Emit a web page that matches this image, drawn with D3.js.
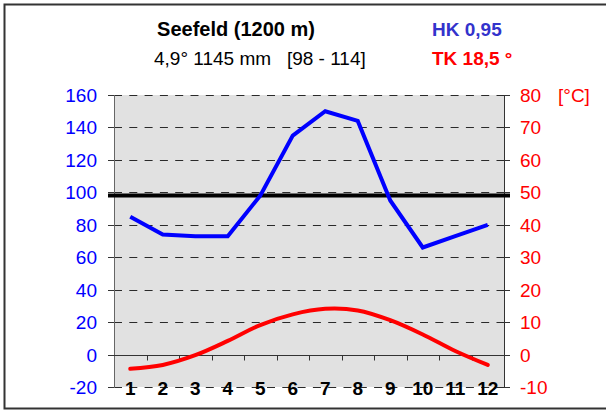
<!DOCTYPE html>
<html>
<head>
<meta charset="utf-8">
<script src="https://cdn.jsdelivr.net/npm/d3@7"></script>
<style>
  body { margin: 0; background: #fff; }
  text { font-family: "Liberation Sans", Arial, sans-serif; }
</style>
</head>
<body>
<div id="chart"></div>
<script>
// Klimadiagramm Seefeld
const months = ['1', '2', '3', '4', '5', '6', '7', '8', '9', '10', '11', '12'];
const precipitation = [85, 74, 73, 73, 98, 135, 150, 144, 95, 66, 73, 80];
const temperature = [-4.4, -3.2, -0.2, 4.2, 9.1, 12.4, 14.1, 13.6, 10.6, 6.2, 1.1, -3.2];
const leftTicks = [-20, 0, 20, 40, 60, 80, 100, 120, 140, 160];
const rightTicks = [-10, 0, 10, 20, 30, 40, 50, 60, 70, 80];
const refLine = [98];

const width = 606, height = 410;
const plotLeft = 114, plotRight = 504, plotTop = 95, plotBottom = 387;

const svg = d3.select('#chart')
    .append('svg')
    .attr('width', width)
    .attr('height', height);

// Rahmen
svg.append('rect')
    .attr('x', 4.5).attr('y', 4.5)
    .attr('width', 640).attr('height', 404)
    .attr('fill', 'none')
    .attr('stroke', '#333')
    .attr('stroke-width', 2);

const x = d3.scaleBand().domain(months).range([plotLeft, plotRight]);
const yP = d3.scaleLinear().domain([-20, 160]).range([plotBottom, plotTop]);
const yT = d3.scaleLinear().domain([-10, 80]).range([plotBottom, plotTop]);

svg.append('rect')
    .attr('x', plotLeft).attr('y', plotTop)
    .attr('width', plotRight - plotLeft).attr('height', plotBottom - plotTop)
    .attr('fill', '#e1e1e1');

// Gitterlinien
svg.selectAll('.grid')
    .data(leftTicks.filter(d => d !== 0))
    .join('line')
    .attr('x1', plotLeft).attr('x2', plotRight)
    .attr('y1', d => Math.round(yP(d)) + 0.5)
    .attr('y2', d => Math.round(yP(d)) + 0.5)
    .attr('stroke', '#2a2a2a')
    .attr('stroke-width', 1.2)
    .attr('stroke-dasharray', '8,7.3');

// Achsen
svg.append('line')
    .attr('x1', plotLeft + 0.5).attr('x2', plotLeft + 0.5)
    .attr('y1', plotTop).attr('y2', plotBottom + 1)
    .attr('stroke', '#666');
svg.append('line')
    .attr('x1', plotRight + 0.5).attr('x2', plotRight + 0.5)
    .attr('y1', plotTop).attr('y2', plotBottom + 1)
    .attr('stroke', '#333');

svg.selectAll('.ltick')
    .data(leftTicks)
    .join('line')
    .attr('x1', plotLeft - 6).attr('x2', plotLeft)
    .attr('y1', d => Math.round(yP(d)) + 0.5)
    .attr('y2', d => Math.round(yP(d)) + 0.5)
    .attr('stroke', '#333');
svg.selectAll('.rtick')
    .data(rightTicks)
    .join('line')
    .attr('x1', plotRight).attr('x2', plotRight + 6)
    .attr('y1', d => Math.round(yT(d)) + 0.5)
    .attr('y2', d => Math.round(yT(d)) + 0.5)
    .attr('stroke', '#333');

// Nulllinie mit Monatsstrichen
const y0 = Math.round(yP(0)) + 0.5;
svg.append('line')
    .attr('x1', plotLeft - 6).attr('x2', plotRight + 6)
    .attr('y1', y0).attr('y2', y0)
    .attr('stroke', '#333');
svg.selectAll('.mtick')
    .data(months.slice(1))
    .join('line')
    .attr('x1', d => Math.round(x(d)) + 0.5)
    .attr('x2', d => Math.round(x(d)) + 0.5)
    .attr('y1', y0).attr('y2', y0 + 5)
    .attr('stroke', '#333');

// Referenzlinie
svg.selectAll('.ref')
    .data(refLine)
    .join('line')
    .attr('x1', plotLeft - 6).attr('x2', plotRight + 6)
    .attr('y1', d => yP(d)).attr('y2', d => yP(d))
    .attr('stroke', '#000')
    .attr('stroke-width', 4);

// Niederschlag
svg.append('path')
    .datum(precipitation)
    .attr('fill', 'none')
    .attr('stroke', '#0000ff')
    .attr('stroke-width', 4)
    .attr('d', d3.line()
        .x((d, i) => x(months[i]) + x.bandwidth() / 2)
        .y(d => yP(d)));

// Temperatur
svg.append('path')
    .datum(temperature)
    .attr('fill', 'none')
    .attr('stroke', '#ff0000')
    .attr('stroke-width', 4)
    .attr('stroke-linecap', 'round')
    .attr('d', d3.line()
        .curve(d3.curveCatmullRom)
        .x((d, i) => x(months[i]) + x.bandwidth() / 2)
        .y(d => yT(d)));

// Beschriftungen
svg.selectAll('.llab')
    .data(leftTicks)
    .join('text')
    .attr('x', 97)
    .attr('y', d => yP(d) + 7)
    .attr('text-anchor', 'end')
    .attr('fill', '#0000ff')
    .style('font-size', '19px')
    .text(d => d);

svg.selectAll('.rlab')
    .data(rightTicks)
    .join('text')
    .attr('x', 520)
    .attr('y', d => yT(d) + 7)
    .attr('fill', '#ff0000')
    .style('font-size', '19px')
    .text(d => d);

svg.append('text')
    .attr('x', 558).attr('y', plotTop + 7)
    .attr('fill', '#ff0000')
    .style('font-size', '19px')
    .text('[°C]');

svg.selectAll('.xlab')
    .data(months)
    .join('text')
    .attr('x', d => x(d) + x.bandwidth() / 2)
    .attr('y', plotBottom + 8)
    .attr('text-anchor', 'middle')
    .style('font-size', '19px')
    .style('font-weight', 'bold')
    .text(d => d);

svg.append('text')
    .attr('x', 236).attr('y', 36)
    .attr('text-anchor', 'middle')
    .style('font-size', '20px')
    .style('font-weight', 'bold')
    .text('Seefeld (1200 m)');

svg.append('text')
    .attr('x', 154).attr('y', 65)
    .style('font-size', '19px')
    .style('white-space', 'pre')
    .text('4,9° 1145 mm   [98 - 114]');

svg.append('text')
    .attr('x', 432).attr('y', 36)
    .attr('fill', '#3333cc')
    .style('font-size', '19px')
    .style('font-weight', 'bold')
    .text('HK 0,95');

svg.append('text')
    .attr('x', 432).attr('y', 65)
    .attr('fill', '#ff0000')
    .style('font-size', '19px')
    .style('font-weight', 'bold')
    .text('TK 18,5 °');
</script>
</body>
</html>
